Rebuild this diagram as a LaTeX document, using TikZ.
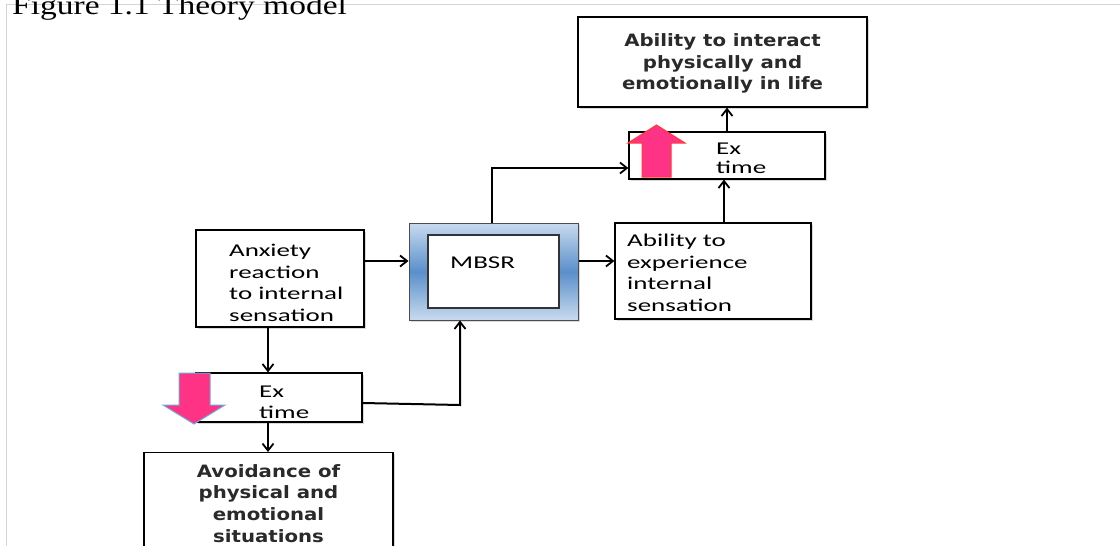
\documentclass[tikz,border=0pt]{standalone}
\usepackage{fontspec}
\setmainfont{Carlito}
\newfontfamily\bodyfont[FakeStretch=1.5]{Carlito}
\newfontfamily\boldsans[FakeStretch=1.16]{DejaVu Sans}
\newfontfamily\titlefont[FakeStretch=1.24]{Liberation Serif}
\usetikzlibrary{arrows.meta,shadows}
\definecolor{pinkfill}{HTML}{FF3385}
\definecolor{pinkred}{HTML}{FF3B30}
\definecolor{pinkblue}{HTML}{6FA8DC}
\definecolor{mbsrlight}{HTML}{C9DAEF}
\definecolor{mbsrdark}{HTML}{5A8FCB}
\definecolor{framegray}{HTML}{D4D4D4}
\definecolor{boldtext}{HTML}{2A2A2A}
\begin{document}
\begin{tikzpicture}[x=1pt,y=-1pt,
  box/.style={draw=black,line width=1.2pt,fill=white,inner sep=0pt,
    drop shadow={shadow xshift=1.5pt,shadow yshift=-1.5pt,opacity=0.3}},
  bodytxt/.style={font=\bodyfont\fontsize{18}{21.5}\selectfont,align=left,inner sep=0pt,anchor=west},
  boldtxt/.style={font=\boldsans\bfseries\fontsize{17}{21.8}\selectfont,text=boldtext,align=center,inner sep=0pt},
  conn/.style={line width=2pt,-{Straight Barb[length=7pt,width=11pt,line width=1.8pt]}},
  pinkarrow/.style={fill=pinkfill,line width=1pt,line join=miter}]
\useasboundingbox (0,0) rectangle (1120,546);
% page frame lines
\draw[framegray,line width=1pt] (6,4) -- (1120,4);
\draw[framegray,line width=1pt] (6,4) -- (6,546);
% title
\node[anchor=base west,inner sep=0pt,font=\titlefont\fontsize{27}{30}\selectfont] (title) at (12,15) {Figure 1.1 Theory model};

% boxes
\node[box,minimum width=289pt,minimum height=90pt] (top) at (722.5,62) {};
\node[boldtxt] (toptxt) at (722.5,63.5) {Ability to interact\\physically and\\emotionally in life};

\node[box,minimum width=196pt,minimum height=47pt] (extop) at (727,155.5) {};
\node[bodytxt,font=\bodyfont\fontsize{18}{19}\selectfont] (extoptxt) at (716,158) {Ex\\time};

\node[box,minimum width=168pt,minimum height=97pt] (anx) at (280,278.5) {};
\node[bodytxt] (anxtxt) at (229,283) {Anxiety\\reaction\\to internal\\sensation};

\node[draw=black!70,line width=1pt,inner sep=0pt,minimum width=169pt,minimum height=97pt,
  top color=mbsrlight,bottom color=mbsrlight,middle color=mbsrdark,
  drop shadow={shadow xshift=1.5pt,shadow yshift=-1.5pt,opacity=0.3}] (mbsr) at (493.5,271.5) {};
\node[draw=black!80,line width=1.2pt,fill=white,inner sep=0pt,minimum width=131pt,minimum height=73pt] (mbsrin) at (493.5,271.5) {};
\node[bodytxt] (mbsrtxt) at (450,263) {MBSR};

\node[box,minimum width=196pt,minimum height=96pt] (exp) at (713,271) {};
\node[bodytxt] (exptxt) at (627,273) {Ability to\\experience\\internal\\sensation};

\node[box,minimum width=166pt,minimum height=49pt] (exbot) at (279,397.5) {};
\node[bodytxt,font=\bodyfont\fontsize{18}{21}\selectfont] (exbottxt) at (259,402.5) {Ex\\time};

\node[box,minimum width=249pt,minimum height=110pt,anchor=north] (avoid) at (268.5,452) {};
\node[boldtxt] (avoidtxt) at (268.5,503.5) {Avoidance of\\physical and\\emotional\\situations};

% pink arrows
\draw[pinkarrow,draw=pinkred] (656.5,125) -- (685,143) -- (671,143) -- (671,177) -- (642,177) -- (642,143) -- (628,143) -- cycle;
\draw[pinkarrow,draw=pinkblue] (194,424) -- (225,405) -- (210,405) -- (210,373) -- (179,373) -- (179,405) -- (163,405) -- cycle;

% connectors
\draw[conn] (anx.east |- 0,261) -- (mbsr.west |- 0,261);
\draw[conn] (mbsr.east |- 0,261) -- (exp.west |- 0,261);
\draw[conn] (exp.north -| 724,0) -- (extop.south -| 724,0);
\draw[conn] (extop.north -| 727,0) -- (top.south -| 727,0);
\coordinate (bend1) at (492,168);
\draw[conn] (mbsr.north -| 492,0) -- (bend1) -- (extop.west |- bend1);
\draw[conn] (anx.south -| 268,0) -- (exbot.north -| 268,0);
\draw[conn] (exbot.south -| 268,0) -- (avoid.north -| 268,0);
\coordinate (bend2) at (460,405);
\draw[conn] (exbot.east |- 0,403) -- (bend2) -- (mbsr.south -| bend2);
\end{tikzpicture}
\end{document}
